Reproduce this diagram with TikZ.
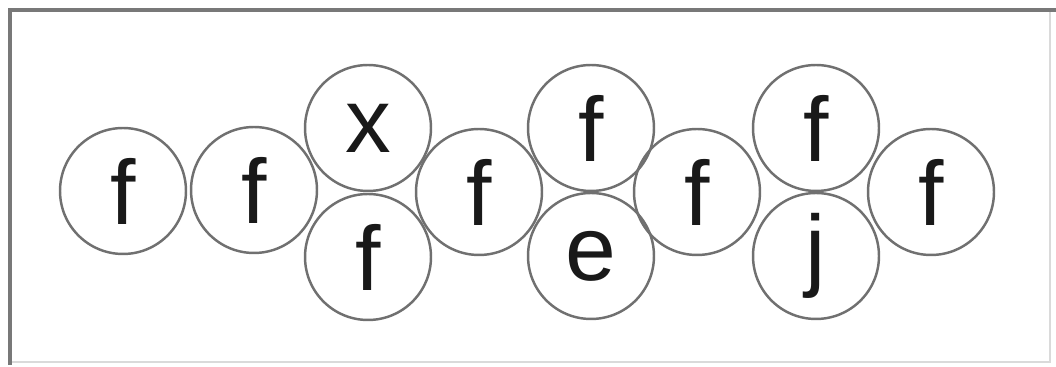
\documentclass[tikz,border=0pt]{standalone}
\usepackage{fontspec}
\setmainfont{Liberation Sans}
\usepackage{xcolor}
\usepackage{tikz}
\definecolor{ringGray}{RGB}{112,112,112}
\definecolor{frameDark}{RGB}{120,120,120}
\definecolor{frameLight}{RGB}{218,218,218}

\begin{document}
\begin{tikzpicture}[x=0.02cm,y=-0.02cm,
  ball/.style={circle, draw=ringGray, line width=1.4pt, minimum size=2.52cm, inner sep=0pt,
    font=\fontsize{52}{58}\selectfont, text=black!90}]
\useasboundingbox (0,0) rectangle (1056,367);
\fill[white] (0,0) rectangle (1056,367);
\draw[frameLight, line width=1.5pt] (1050,10)--(1050,362)--(10,362);
\draw[frameDark, line width=2.3pt] (10,365)--(10,10)--(1056,10);
\node[ball] (f1) at (123,191) {f};
\node[ball] (f2) at (254,190) {f};
\node[ball] (x1) at (368,128) {x};
\node[ball] (f3) at (368,257) {f};
\node[ball] (f4) at (479,192) {f};
\node[ball] (f5) at (591,128) {f};
\node[ball] (e1) at (591,256) {e};
\node[ball] (f6) at (697,192) {f};
\node[ball] (f7) at (816,128) {f};
\node[ball] (j1) at (816,256) {j};
\node[ball] (f8) at (931,192) {f};
\end{tikzpicture}
\end{document}
